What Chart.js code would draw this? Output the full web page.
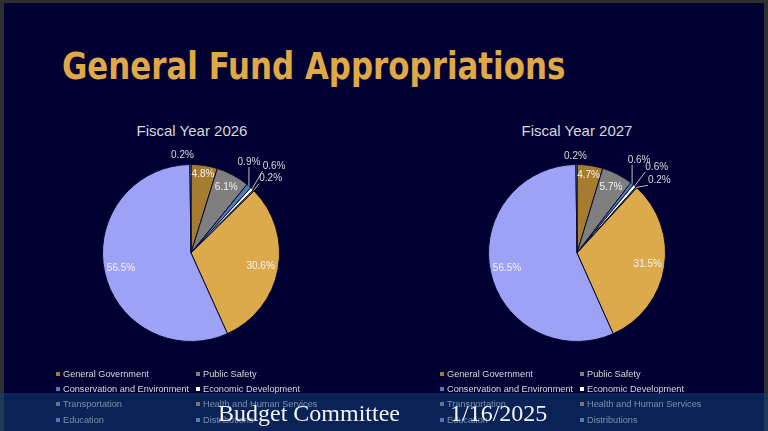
<!DOCTYPE html>
<html>
<head>
<meta charset="utf-8">
<script src="https://cdn.jsdelivr.net/npm/chart.js@4.4.1/dist/chart.umd.min.js"></script>
<style>
  html, body { margin: 0; padding: 0; }
  body {
    width: 768px; height: 431px; overflow: hidden; position: relative;
    background: #2f2f2f;
    font-family: "Liberation Sans", Arial, sans-serif;
  }
  #slide {
    position: absolute; left: 4px; top: 3px; width: 760px; height: 428px;
    background: #000033;
  }
  #heading {
    position: absolute; left: 62px; top: 45px; margin: 0;
    font-family: "DejaVu Sans Condensed", "DejaVu Sans", sans-serif;
    font-stretch: condensed;
    font-weight: bold; font-size: 37px; line-height: 44px;
    color: #E0A945; white-space: nowrap; transform-origin: 0 0;
  }
  .fy {
    position: absolute; top: 122px; width: 200px; text-align: center;
    font-size: 15px; line-height: 18px; color: #D9D9D9;
  }
  canvas { position: absolute; }
  .leg {
    position: absolute; font-size: 9.2px; line-height: 12px;
    color: #D9D9D9; white-space: nowrap;
  }
  .leg i {
    position: absolute; left: -7px; top: 4px; width: 4px; height: 4px;
  }
  #band {
    position: absolute; left: 0; top: 393px; width: 768px; height: 38px;
    background: rgba(20, 68, 121, 0.5);
  }
  .band-text {
    position: absolute; top: 398px;
    font-family: "Liberation Serif", "Times New Roman", serif;
    font-size: 24px; line-height: 30px; color: #F2F2F2; white-space: nowrap;
  }
</style>
</head>
<body>
<div id="slide"></div>
<div id="heading">General Fund Appropriations</div>
<div class="fy" style="left:92px">Fiscal Year 2026</div>
<div class="fy" style="left:477px">Fiscal Year 2027</div>
<canvas id="pie2026" width="260" height="260" style="left:61px;top:123px"></canvas>
<canvas id="pie2027" width="260" height="260" style="left:447px;top:123px"></canvas>
<div id="legends"></div>
<div id="band"></div>
<div class="band-text" style="left:218px">Budget Committee</div>
<div class="band-text" style="left:450px">1/16/2025</div>

<script>
// categories (legend order = slice order, clockwise from 12 o'clock)
const categories = [
  "General Government", "Public Safety",
  "Conservation and Environment", "Economic Development",
  "Transportation", "Health and Human Services",
  "Education", "Distributions"
];
// share of general fund, percent
const fy2026 = [4.8, 6.1, 0.9, 0.6, 0.2, 30.6, 56.5, 0.2];
const fy2027 = [4.7, 5.7, 0.6, 0.6, 0.2, 31.5, 56.5, 0.2];

const sliceColors = [
  "#A67C2E", "#7F7F7F", "#4A7EBB", "#FFFFFF",
  "#A5A5A5", "#DDAA4B", "#9DA2F7", "#8EB4E3"
];

// fit heading to the width it has on the slide
const heading = document.getElementById("heading");
heading.style.transform = "scaleX(" + (503 / heading.offsetWidth) + ")";

// labels: inside ones at a fraction of the radius, small slices outside with a leader line
const pieLabels = {
  id: "pieLabels",
  afterDatasetsDraw(chart, args, opts) {
    const ctx = chart.ctx;
    const meta = chart.getDatasetMeta(0);
    const values = chart.data.datasets[0].data;
    ctx.save();
    ctx.font = '10px "Liberation Sans", Arial, sans-serif';
    ctx.textAlign = "center";
    ctx.textBaseline = "middle";
    meta.data.forEach((arc, i) => {
      const p = arc.getProps(["x", "y", "startAngle", "endAngle", "outerRadius"], true);
      const mid = (p.startAngle + p.endAngle) / 2;
      const text = values[i].toFixed(1) + "%";
      const out = opts.outside[i];
      if (out) {
        const ex = p.x + Math.cos(mid) * p.outerRadius;
        const ey = p.y + Math.sin(mid) * p.outerRadius;
        const lx = ex + out[0], ly = ey + out[1];
        const w = ctx.measureText(text).width, h = 10;
        const cx = Math.min(Math.max(ex, lx - w / 2), lx + w / 2);
        const cy = Math.min(Math.max(ey, ly - h / 2), ly + h / 2);
        if (Math.hypot(cx - ex, cy - ey) > 5) {
          ctx.strokeStyle = "#BFBFBF";
          ctx.lineWidth = 1;
          ctx.beginPath();
          ctx.moveTo(ex, ey);
          ctx.lineTo(cx, cy);
          ctx.stroke();
        }
        ctx.fillStyle = "#D9D9D9";
        ctx.fillText(text, lx, ly);
      } else {
        const r = p.outerRadius * (opts.inside[i] || 0.8);
        ctx.fillStyle = "#F2F2F2";
        ctx.fillText(text, p.x + Math.cos(mid) * r, p.y + Math.sin(mid) * r);
      }
    });
    ctx.restore();
  }
};

function makePie(id, values, outside, inside) {
  return new Chart(document.getElementById(id), {
    type: "pie",
    data: {
      labels: categories,
      datasets: [{
        data: values,
        backgroundColor: sliceColors,
        borderColor: "#0A0A33",
        borderWidth: 1
      }]
    },
    options: {
      responsive: false,
      animation: false,
      devicePixelRatio: 1,
      layout: { padding: 41 },
      plugins: {
        legend: { display: false },
        tooltip: { enabled: false },
        pieLabels: { outside: outside, inside: inside }
      }
    },
    plugins: [pieLabels]
  });
}

makePie("pie2026", fy2026,
  { 2: [0, -24], 3: [22, -23], 4: [17, -12], 7: [-8, -9] },
  { 0: 0.9, 1: 0.84, 5: 0.8, 6: 0.81 });
makePie("pie2027", fy2027,
  { 2: [7, -24], 3: [22, -19], 4: [23, -7], 7: [-1, -8] },
  { 0: 0.89, 1: 0.84, 5: 0.81, 6: 0.81 });

// two-column legends under each pie
const legends = document.getElementById("legends");
[63, 447].forEach(left => {
  categories.forEach((name, i) => {
    const d = document.createElement("div");
    d.className = "leg";
    d.style.left = (left + (i % 2) * 140) + "px";
    d.style.top = (368 + Math.floor(i / 2) * 15.2) + "px";
    d.innerHTML = '<i style="background:' + sliceColors[i] + '"></i>' + name;
    legends.appendChild(d);
  });
});
</script>
</body>
</html>
